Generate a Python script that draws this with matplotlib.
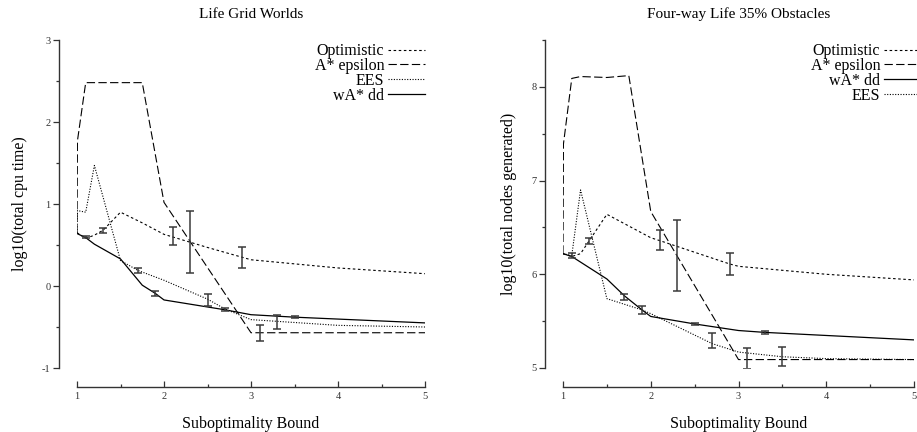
import numpy as np
import matplotlib
matplotlib.use("Agg")
import matplotlib.pyplot as plt
from matplotlib.ticker import MultipleLocator

plt.rcParams['font.family'] = 'serif'
plt.rcParams['font.serif'] = ['Liberation Serif', 'DejaVu Serif']
plt.rcParams['axes.unicode_minus'] = False

# ---- left panel: Life Grid Worlds (log10 cpu time)
cpu_opt_x = [1.0, 1.1, 1.2, 1.3, 1.5, 1.75, 2.0, 2.5, 3.0, 4.0, 5.0]
cpu_opt_y = [0.65, 0.58, 0.62, 0.68, 0.90, 0.77, 0.63, 0.47, 0.32, 0.22, 0.15]
cpu_aeps_x = [1.0, 1.005, 1.1, 1.5, 1.75, 2.0, 3.0, 5.0]
cpu_aeps_y = [0.65, 1.77, 2.48, 2.48, 2.48, 1.02, -0.57, -0.57]
cpu_ees_x = [1.0, 1.005, 1.1, 1.2, 1.5, 1.7, 2.0, 2.5, 2.7, 3.0, 4.0, 5.0]
cpu_ees_y = [0.65, 0.92, 0.90, 1.47, 0.31, 0.19, 0.07, -0.16, -0.28, -0.41, -0.48, -0.50]
cpu_wdd_x = [1.0, 1.1, 1.2, 1.5, 1.75, 1.9, 2.0, 2.7, 3.0, 3.5, 5.0]
cpu_wdd_y = [0.64, 0.59, 0.51, 0.33, 0.01, -0.09, -0.17, -0.29, -0.35, -0.38, -0.45]
cpu_err_x = [1.1, 1.3, 1.7, 1.9, 2.1, 2.3, 2.5, 2.7, 2.9, 3.1, 3.3, 3.5]
cpu_err_y = [0.595, 0.68, 0.19, -0.09, 0.61, 0.535, -0.17, -0.29, 0.345, -0.57, -0.44, -0.375]
cpu_err_h = [0.015, 0.03, 0.03, 0.03, 0.11, 0.375, 0.07, 0.02, 0.125, 0.10, 0.09, 0.015]

# ---- right panel: Four-way Life 35% Obstacles (log10 nodes generated)
gen_opt_x = [1.0, 1.1, 1.2, 1.3, 1.5, 2.0, 2.1, 2.9, 3.0, 4.0, 5.0]
gen_opt_y = [6.22, 6.19, 6.22, 6.36, 6.64, 6.39, 6.36, 6.11, 6.085, 6.0, 5.94]
gen_aeps_x = [1.0, 1.005, 1.1, 1.2, 1.5, 1.75, 2.0, 3.0, 5.0]
gen_aeps_y = [6.22, 7.39, 8.09, 8.11, 8.10, 8.12, 6.67, 5.09, 5.09]
gen_wdd_x = [1.0, 1.1, 1.2, 1.5, 1.7, 1.9, 2.0, 2.5, 3.0, 3.3, 5.0]
gen_wdd_y = [6.22, 6.19, 6.13, 5.95, 5.77, 5.62, 5.55, 5.47, 5.40, 5.38, 5.30]
gen_ees_x = [1.0, 1.1, 1.2, 1.5, 1.9, 2.0, 2.7, 3.0, 3.5, 4.0, 5.0]
gen_ees_y = [6.22, 6.20, 6.90, 5.74, 5.62, 5.58, 5.26, 5.17, 5.12, 5.10, 5.09]
gen_err_x = [1.1, 1.3, 1.7, 1.9, 2.1, 2.3, 2.5, 2.7, 2.9, 3.1, 3.3, 3.5]
gen_err_y = [6.2, 6.355, 5.76, 5.62, 6.365, 6.2, 5.47, 5.29, 6.11, 5.1, 5.38, 5.12]
gen_err_h = [0.025, 0.035, 0.03, 0.04, 0.105, 0.38, 0.015, 0.08, 0.12, 0.11, 0.02, 0.1]

LW = 0.8
styles = {
    'Optimistic': dict(color='black', lw=LW, linestyle=(0, (2.3, 2.3))),
    'A* epsilon': dict(color='black', lw=LW, linestyle=(0, (7.5, 3.0))),
    'EES': dict(color='black', lw=LW, linestyle=(0, (1.0, 1.4))),
    'wA* dd': dict(color='black', lw=LW + 0.1, linestyle='-'),
}

fig = plt.figure(figsize=(9.17, 4.32), dpi=100)
ax1 = fig.add_axes([77 / 917, 64 / 432, 348 / 917, 328 / 432])
ax2 = fig.add_axes([563 / 917, 64 / 432, 351 / 917, 328 / 432])


def style_axes(ax, ylim, ylabel, title):
    ax.set_xlim(1, 5)
    ax.set_ylim(*ylim)
    for s in ['top', 'right']:
        ax.spines[s].set_visible(False)
    ax.spines['left'].set_position(('outward', 13))
    ax.spines['bottom'].set_position(('outward', 14))
    for s in ['left', 'bottom']:
        ax.spines[s].set_color('#333333')
        ax.spines[s].set_linewidth(1.0)
    ax.xaxis.set_major_locator(MultipleLocator(1))
    ax.xaxis.set_minor_locator(MultipleLocator(0.5))
    ax.yaxis.set_major_locator(MultipleLocator(1))
    ax.yaxis.set_minor_locator(MultipleLocator(0.5))
    ax.tick_params(axis='x', which='both', direction='in', colors='#333333', labelsize=7.5, pad=3)
    ax.tick_params(axis='y', which='both', direction='out', colors='#333333', labelsize=7.5, pad=2)
    ax.tick_params(which='major', length=4, width=0.9)
    ax.tick_params(which='minor', length=2.5, width=0.9)
    ax.set_xlabel('Suboptimality Bound', fontsize=11.5, labelpad=11)
    ax.set_ylabel(ylabel, fontsize=11.5, labelpad=10)
    ax.set_title(title, fontsize=11, pad=16)


# left
ax1.plot(cpu_opt_x, cpu_opt_y, label='Optimistic', **styles['Optimistic'])
ax1.plot(cpu_aeps_x, cpu_aeps_y, label='A* epsilon', **styles['A* epsilon'])
ax1.plot(cpu_ees_x, cpu_ees_y, label='EES', **styles['EES'])
ax1.plot(cpu_wdd_x, cpu_wdd_y, label='wA* dd', **styles['wA* dd'])
ax1.errorbar(cpu_err_x, cpu_err_y, yerr=cpu_err_h, fmt='none', ecolor='#3a3a3a',
             elinewidth=1.1, capsize=2.8, capthick=1.1)
style_axes(ax1, (-1, 3), 'log10(total cpu time)', 'Life Grid Worlds')
ax1.legend(loc='upper right', bbox_to_anchor=(1.0, 0.99), frameon=False, markerfirst=False,
           fontsize=11.5, handlelength=2.3, handletextpad=0.25, labelspacing=-0.075,
           borderpad=0, borderaxespad=0)

# right
ax2.plot(gen_opt_x, gen_opt_y, label='Optimistic', **styles['Optimistic'])
ax2.plot(gen_aeps_x, gen_aeps_y, label='A* epsilon', **styles['A* epsilon'])
ax2.plot(gen_wdd_x, gen_wdd_y, label='wA* dd', **styles['wA* dd'])
ax2.plot(gen_ees_x, gen_ees_y, label='EES', **styles['EES'])
ax2.errorbar(gen_err_x, gen_err_y, yerr=gen_err_h, fmt='none', ecolor='#3a3a3a',
             elinewidth=1.1, capsize=2.8, capthick=1.1)
style_axes(ax2, (5, 8.5), 'log10(total nodes generated)', 'Four-way Life 35% Obstacles')
ax2.legend(loc='upper right', bbox_to_anchor=(1.02, 0.99), frameon=False, markerfirst=False,
           fontsize=11.5, handlelength=2.3, handletextpad=0.25, labelspacing=-0.075,
           borderpad=0, borderaxespad=0)

fig.savefig('out.png', dpi=100)
